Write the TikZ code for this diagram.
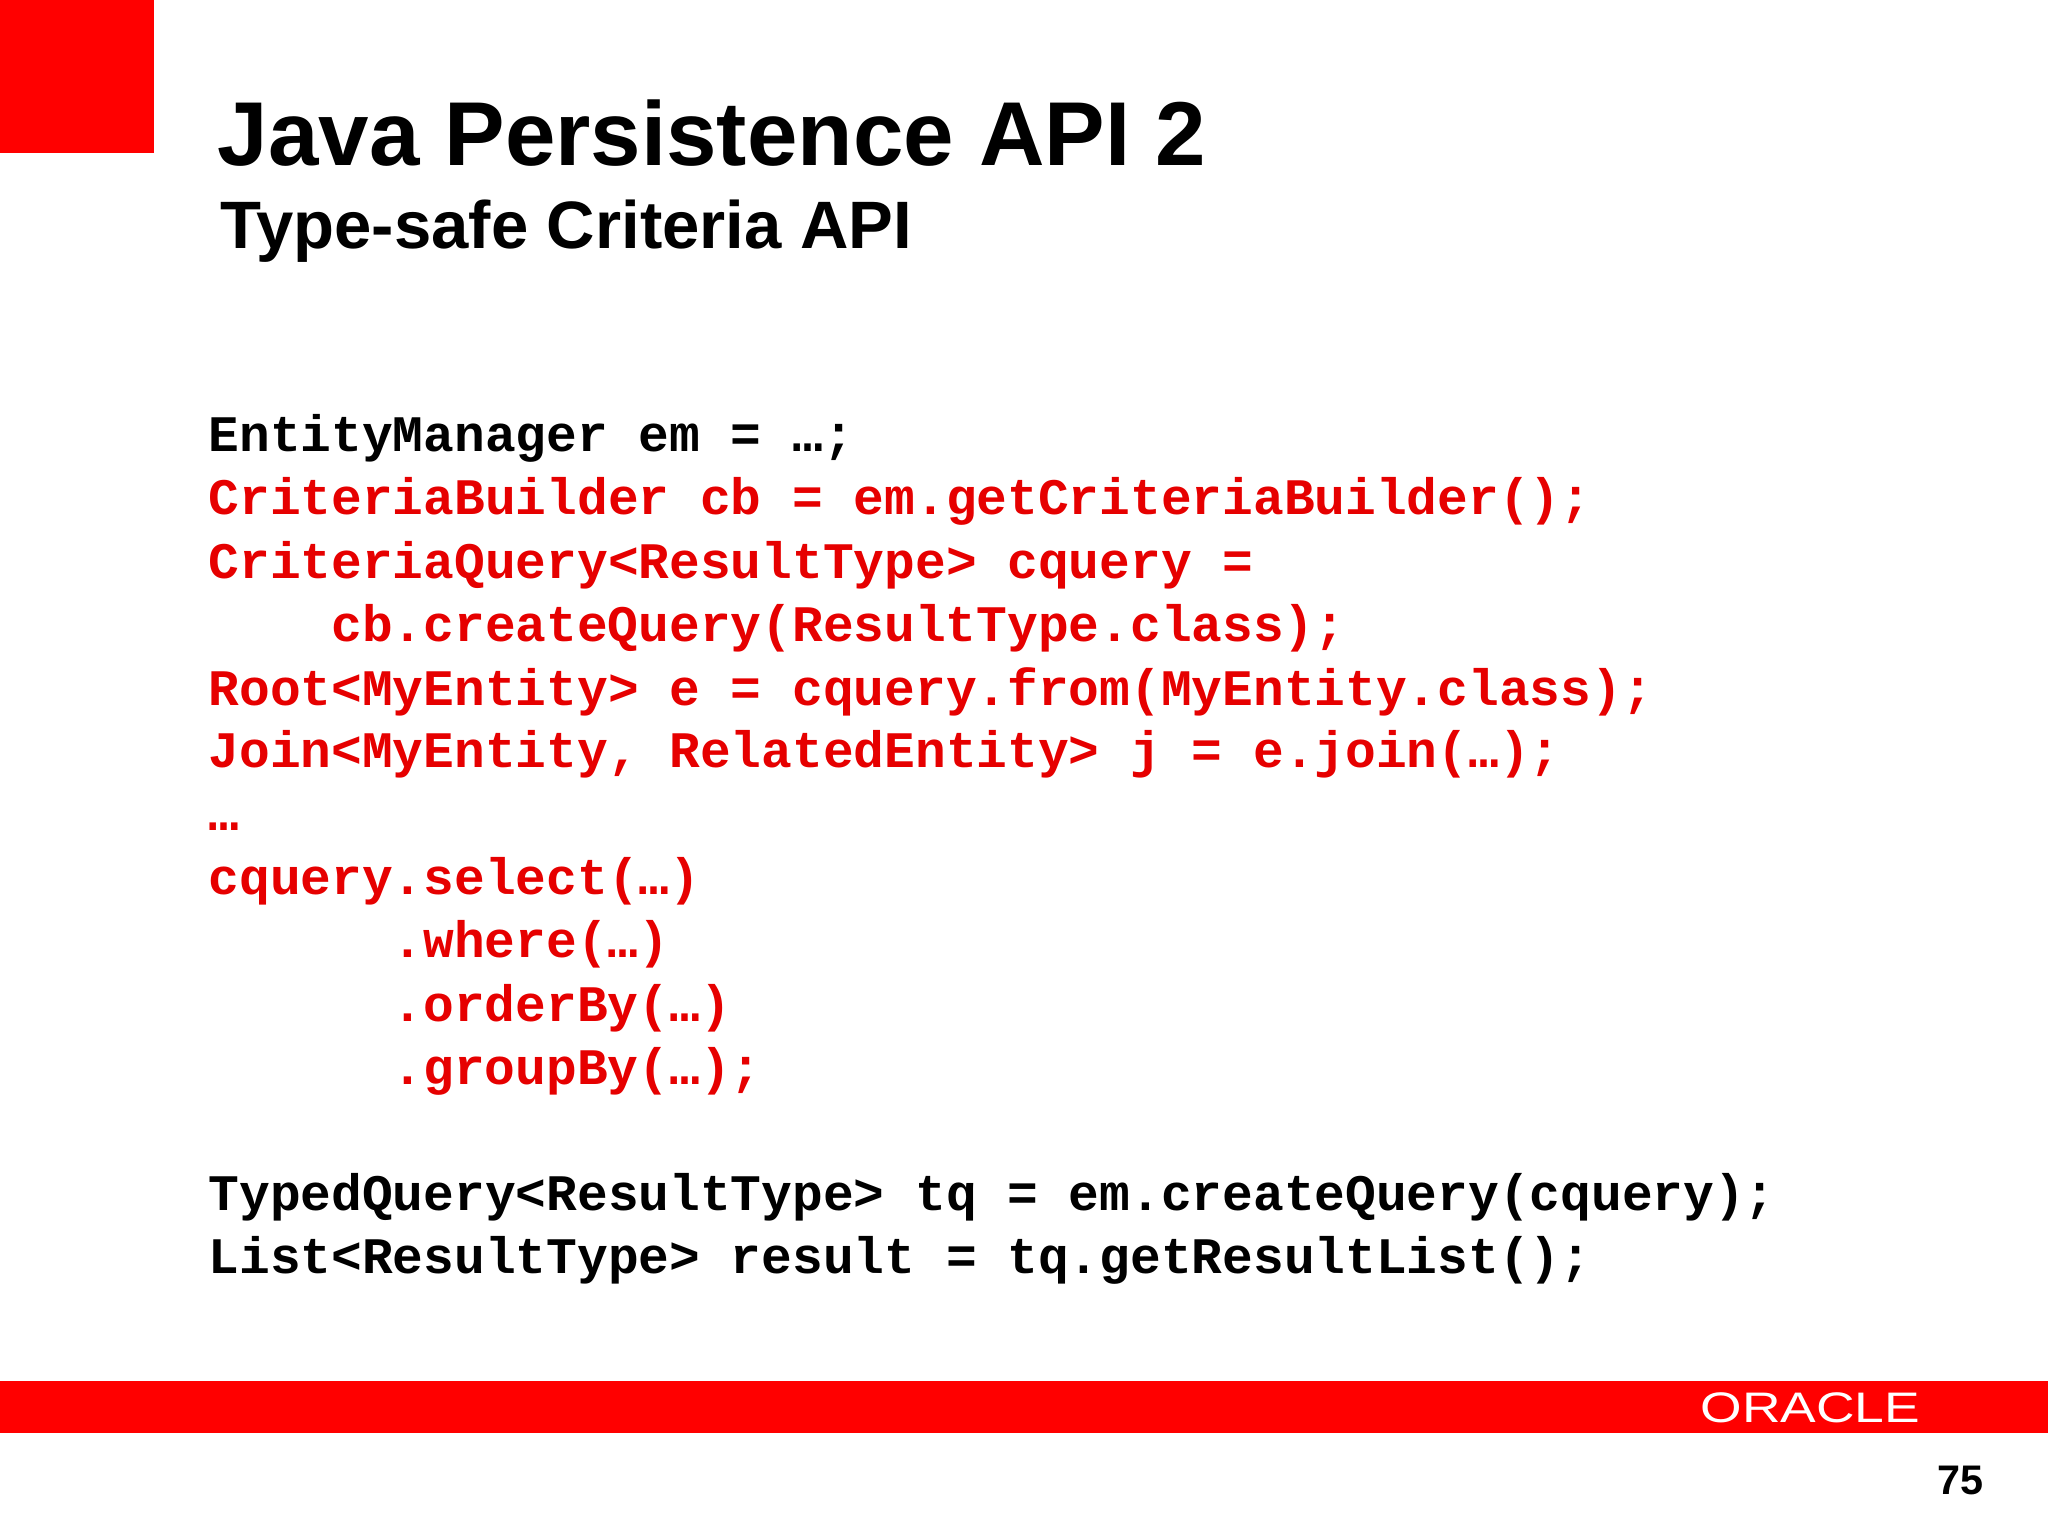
\documentclass[tikz,border=0pt]{standalone}
\usepackage{fontspec}
\setmainfont{Liberation Sans}
\newfontfamily\codefont{Liberation Mono}
\definecolor{ored}{HTML}{FF0000}
\definecolor{cred}{HTML}{E60000}
\begin{document}
\begin{tikzpicture}[x=0.01cm,y=-0.01cm,
  code/.style={anchor=base west,inner sep=0,font=\codefont\bfseries\fontsize{11.15pt}{13pt}\selectfont},
  rc/.style={code,text=cred}]
\useasboundingbox[fill=white] (0,0) rectangle (1568,1176);
\fill[ored] (0,0) rectangle (118,117);
\node[anchor=base west,inner sep=0,font=\bfseries\fontsize{19.75pt}{22pt}\selectfont] (t) at (166,127) {Java Persistence API 2};
\node[anchor=base west,inner sep=0,font=\bfseries\fontsize{14.6pt}{16pt}\selectfont] (st) at (168,190) {Type-safe Criteria API};
\node[code] (l1) at (159,346) {EntityManager em = …;};
\node[rc] (l2) at (159,394) {CriteriaBuilder cb = em.getCriteriaBuilder();};
\node[rc] (l3) at (159,443) {CriteriaQuery<ResultType> cquery =};
\node[rc] (l4) at (253,491) {cb.createQuery(ResultType.class);};
\node[rc] (l5) at (159,540) {Root<MyEntity> e = cquery.from(MyEntity.class);};
\node[rc] (l6) at (159,588) {Join<MyEntity, RelatedEntity> j = e.join(…);};
\node[rc] (l7) at (159,636) {…};
\node[rc] (l8) at (159,685) {cquery.select(…)};
\node[rc] (l9) at (300,733) {.where(…)};
\node[rc] (l10) at (300,782) {.orderBy(…)};
\node[rc] (l11) at (300,830) {.groupBy(…);};
\node[code] (l12) at (159,927) {TypedQuery<ResultType> tq = em.createQuery(cquery);};
\node[code] (l13) at (159,975) {List<ResultType> result = tq.getResultList();};
\fill[ored] (0,1057) rectangle (1568,1097);
\node[anchor=center,inner sep=0,text=white,font=\fontsize{9.3pt}{10pt}\selectfont,xscale=1.25] (logo) at (1386,1078) {ORACLE};
\node[anchor=base east,inner sep=0,font=\bfseries\fontsize{9pt}{10pt}\selectfont] (pg) at (1519,1144) {75};
\end{tikzpicture}
\end{document}
